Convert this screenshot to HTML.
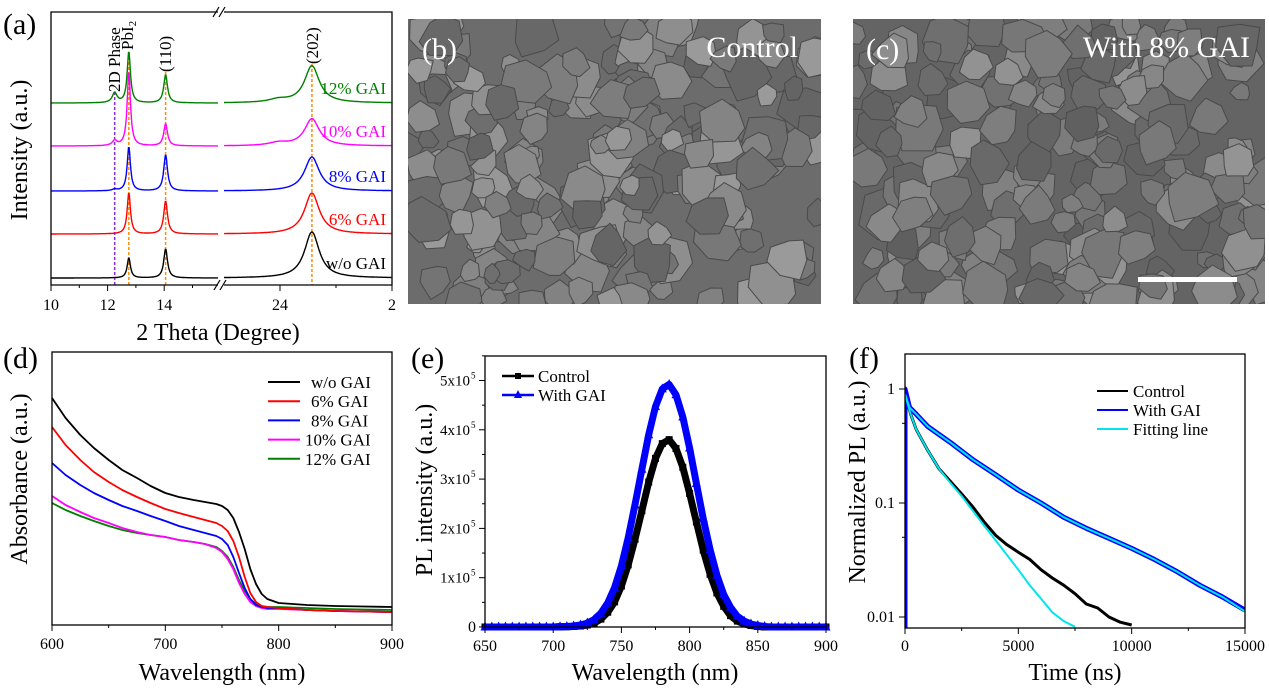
<!DOCTYPE html>
<html><head><meta charset="utf-8"><style>
html,body{margin:0;padding:0;background:#fff}
svg{display:block;font-family:"Liberation Serif",serif}
</style></head><body>
<svg id="fig" width="1269" height="688" viewBox="0 0 1269 688" xmlns="http://www.w3.org/2000/svg">
<defs>
<clipPath id="clipB"><rect x="408" y="19" width="413" height="285"/></clipPath>
<clipPath id="clipC"><rect x="853" y="19" width="412" height="285"/></clipPath>
<clipPath id="clipF"><rect x="905" y="354" width="340" height="274"/></clipPath>
<clipPath id="clipAL"><rect x="51" y="12" width="167" height="273"/></clipPath>
<clipPath id="clipAR"><rect x="224" y="12" width="168" height="273"/></clipPath>
</defs>
<g id="sem"></g>
<g id="pa"></g>
<g id="pd"></g>
<g id="pe"></g>
<g id="pf"></g>
</svg>
<script>
// ---------- Panel (a) XRD data ----------
const xrdSeries = ["w/o GAI","6% GAI","8% GAI","10% GAI","12% GAI"];
const xrdColors = ["#000000","#ff0000","#0000ff","#ff00ff","#008000"];
const xrdOffsets = [0,44,87,132,175];
const xrdPeakPos = [12.25,12.75,14.05,23.97,24.57];
const xrdH_wo = [0,20,29,0,46];
const xrdH_6 = [0,41,33,0,41];
const xrdH_8 = [1.5,44,36,0,34];
const xrdH_10 = [5,74,22,3,27];
const xrdH_12 = [10,51,28,3,37];
const xrdPeakW = [0.1,0.07,0.08,0.2,0.16];
// ---------- Panel (d) absorbance ----------
const absWl = [600,612,625,637,650,662,675,687,700,712,725,735,745,750,755,760,765,770,775,780,785,790,800,825,850,875,900];
const absWo = [2.27,2.07,1.90,1.77,1.65,1.55,1.47,1.39,1.32,1.28,1.25,1.23,1.21,1.19,1.15,1.07,0.93,0.76,0.56,0.41,0.31,0.26,0.22,0.20,0.19,0.185,0.18];
const abs6 = [1.98,1.80,1.65,1.53,1.43,1.35,1.28,1.22,1.16,1.12,1.08,1.05,1.02,0.99,0.94,0.84,0.68,0.48,0.32,0.23,0.19,0.18,0.17,0.15,0.14,0.135,0.13];
const abs8 = [1.62,1.50,1.40,1.32,1.25,1.19,1.14,1.09,1.04,0.99,0.95,0.92,0.89,0.86,0.80,0.68,0.52,0.37,0.26,0.20,0.18,0.17,0.17,0.15,0.14,0.135,0.13];
const abs10 = [1.29,1.20,1.13,1.07,1.02,0.97,0.93,0.90,0.88,0.85,0.83,0.81,0.77,0.73,0.66,0.56,0.42,0.31,0.23,0.19,0.17,0.16,0.16,0.15,0.14,0.135,0.13];
const abs12 = [1.22,1.15,1.09,1.04,0.99,0.95,0.92,0.90,0.88,0.85,0.83,0.81,0.78,0.74,0.68,0.58,0.45,0.34,0.26,0.21,0.19,0.18,0.18,0.17,0.16,0.155,0.15];
const absNames = ["w/o GAI","6% GAI","8% GAI","10% GAI","12% GAI"];
// ---------- Panel (e) PL ----------
const plWl = [650,655,660,665,670,675,680,685,690,695,700,705,710,715,720,725,730,735,740,745,750,755,760,765,770,775,780,785,790,795,800,805,810,815,820,825,830,835,840,845,850,855,860,865,870,875,880,885,890,895,900];
const plControl = [0,0,0,0,0,0,0,0,0,0,0,0.005,0.005,0.01,0.02,0.04,0.08,0.16,0.30,0.51,0.83,1.26,1.78,2.36,2.94,3.42,3.72,3.80,3.62,3.24,2.71,2.13,1.56,1.07,0.69,0.42,0.23,0.12,0.06,0.03,0.01,0,0,0,0,0,0,0,0,0,0];
const plGAI = [0,0,0,0,0,0,0,0,0,0,0,0.005,0.01,0.02,0.04,0.08,0.15,0.28,0.49,0.80,1.24,1.81,2.48,3.20,3.90,4.47,4.83,4.92,4.71,4.26,3.63,2.91,2.20,1.57,1.05,0.66,0.40,0.22,0.12,0.06,0.03,0.01,0,0,0,0,0,0,0,0,0];
const plTicks = [0,1,2,3,4,5];
// ---------- Panel (f) TRPL ----------
const tCtrl = [0,250,500,1000,1500,2000,2500,3000,3500,4000,4500,5000,5500,6000,6500,7000,7500,8000,8500,9000,9500,10000];
const vCtrl = [0.92,0.6,0.44,0.29,0.2,0.155,0.12,0.092,0.068,0.052,0.043,0.037,0.032,0.026,0.022,0.019,0.016,0.013,0.012,0.01,0.009,0.0085];
const tFitC = [0,250,500,1000,1500,2000,2500,3000,3500,4000,4500,5000,5500,6000,6500,7000,7500];
const vFitC = [0.9,0.6,0.44,0.29,0.2,0.15,0.115,0.085,0.063,0.047,0.035,0.026,0.019,0.0145,0.011,0.0092,0.0082];
const tGAI = [0,0,200,500,1000,1500,2000,2500,3000,4000,5000,6000,7000,8000,9000,10000,11000,12000,13000,14000,15000];
const vGAI = [0.008,1.0,0.69,0.6,0.47,0.4,0.34,0.285,0.24,0.177,0.13,0.1,0.075,0.06,0.049,0.04,0.032,0.025,0.019,0.015,0.0115];
const tFitG = [0,200,500,1000,1500,2000,2500,3000,4000,5000,6000,7000,8000,9000,10000,11000,12000,13000,14000,15000];
const vFitG = [0.9,0.69,0.6,0.47,0.4,0.34,0.285,0.24,0.177,0.13,0.1,0.075,0.06,0.049,0.04,0.032,0.025,0.019,0.015,0.0112];

const NS="http://www.w3.org/2000/svg";
function mk(parent,tag,attrs,text){const e=document.createElementNS(NS,tag);for(const k in attrs)e.setAttribute(k,attrs[k]);if(text!==undefined)e.textContent=text;parent.appendChild(e);return e;}
function txt(p,x,y,s,size,anchor,fill,rot){const a={x:x,y:y,"font-size":size,"text-anchor":anchor||"middle",fill:fill||"#000"};if(rot)a.transform="rotate(-90 "+x+" "+y+")";return mk(p,"text",a,s);}

// ---------- SEM textures ----------
(function(){
 const g=document.getElementById("sem");
 let seed=11;function rnd(){seed=(seed*16807)%2147483647;return seed/2147483647;}
 [[408,19,413,285,"clipB","sem-image-control"],[853,19,412,285,"clipC","sem-image-gai"]].forEach(function(r,i){
  const sg=mk(g,"g",{"clip-path":"url(#"+r[4]+")"});
  
  
  mk(sg,"rect",{x:r[0],y:r[1],width:r[2],height:r[3],fill:i?"#646464":"#6c6c6c"});
  for(let k=0;k<200;k++){
   const cx=r[0]+rnd()*r[2],cy=r[1]+rnd()*r[3],rr=10+rnd()*16;
   let pts=[];const n=7;for(let j=0;j<n;j++){const a=j/n*6.283+rnd()*0.4,rad=rr*(0.75+rnd()*0.4);pts.push((cx+Math.cos(a)*rad).toFixed(1)+","+(cy+Math.sin(a)*rad).toFixed(1));}
   const v=Math.round(100+rnd()*55-(i?6:0));
   mk(sg,"polygon",{points:pts.join(" "),fill:"rgb("+v+","+v+","+v+")",stroke:"#4a4a4a","stroke-width":1,"stroke-linejoin":"round"});
  }
 });
 const lb=txt(g,422,59,"(b)",30,"start","#fff");
 const lc=txt(g,798,57,"Control",30,"end","#fff");
 const lb2=txt(g,866,59,"(c)",30,"start","#fff");
 const lc2=txt(g,1250,57,"With 8% GAI",30,"end","#fff");
 const sb=mk(g,"rect",{x:1138,y:277,width:99,height:5,fill:"#fff"});
 
})();

// ---------- Panel (a) ----------
(function(){
 const g=document.getElementById("pa");
 const xL=v=>51+(v-10)*28.3, xR=v=>280+(v-24)*56, y=v=>278-v;
 const heights=[xrdH_wo,xrdH_6,xrdH_8,xrdH_10,xrdH_12];
 function I(t,s){let v=0;for(let k=0;k<xrdPeakPos.length;k++){const d=(t-xrdPeakPos[k])/xrdPeakW[k];v+=heights[s][k]/(1+d*d);}return v;}
 [[12.25,"#8a2be2",0],[12.75,"#ff8c00",0],[14.05,"#ff8c00",0],[24.57,"#ff8c00",1]].forEach(function(d){
  const X=d[2]?xR(d[0]):xL(d[0]);
  const l=mk(g,"line",{x1:X,x2:X,y1:d[0]==12.25?92:d[0]==12.75?52:d[0]==14.05?72:64,y2:285,stroke:d[1],"stroke-width":1.5,"stroke-dasharray":"3,2"});
  
 });
 for(let s=0;s<5;s++){
  let pl=[],pr=[];
  for(let t=10;t<=15.9;t+=0.02)pl.push(xL(t).toFixed(1)+","+y(xrdOffsets[s]+I(t,s)).toFixed(1));
  for(let t=23;t<=26;t+=0.01)pr.push(xR(t).toFixed(1)+","+y(xrdOffsets[s]+I(t,s)).toFixed(1));
  const a=mk(g,"polyline",{points:pl.join(" "),fill:"none",stroke:xrdColors[s],"stroke-width":1.4,"clip-path":"url(#clipAL)"});
  
  const b=mk(g,"polyline",{points:pr.join(" "),fill:"none",stroke:xrdColors[s],"stroke-width":1.4,"clip-path":"url(#clipAR)"});
  
  const lt=txt(g,386,y(xrdOffsets[s])-9,xrdSeries[s],17,"end",xrdColors[s]);
  
 }
 mk(g,"path",{d:"M218 12H51V285H218M224 285H392V12H224",fill:"none",stroke:"#000","stroke-width":1.3});
 mk(g,"path",{d:"M213 17L219 7M219 17L225 7M214 290L220 280M220 290L226 280",stroke:"#000","stroke-width":1.2,fill:"none"});
 [[10,0],[12,0],[14,0],[24,1],[26,1]].forEach(function(t){const X=t[1]?xR(t[0]):xL(t[0]);mk(g,"line",{x1:X,x2:X,y1:285,y2:291,stroke:"#000"});
  const tl=txt(g,X,310,t[0]==26?"2":String(t[0]),16);});
 [11,13,15].forEach(v=>mk(g,"line",{x1:xL(v),x2:xL(v),y1:285,y2:288,stroke:"#000"}));
 [25].forEach(v=>mk(g,"line",{x1:xR(v),x2:xR(v),y1:285,y2:288,stroke:"#000"}));
 [["2D Phase",120,92],["PbI",133,50],["(110)",171,72],["(202)",318,64]].forEach(function(p){
  const t=txt(g,p[1],p[2],p[0],17,"start","#000",true);
  if(p[0]=="PbI"){mk(t,"tspan",{"font-size":11,dy:3},"2");}
 });
 const xt=txt(g,218,340,"2 Theta (Degree)",24);
 const yt=txt(g,27,150,"Intensity (a.u.)",24,"middle","#000",true);
 const pa=txt(g,3,34,"(a)",30,"start");
})();

// ---------- Panel (d) ----------
(function(){
 const g=document.getElementById("pd");
 const x=v=>52+(v-600)/300*340, y=v=>625-v*100;
 const series=[absWo,abs6,abs8,abs10,abs12];
 for(let s=4;s>=0;s--){
  const p=mk(g,"polyline",{points:absWl.map((w,i)=>x(w).toFixed(1)+","+y(series[s][i]).toFixed(1)).join(" "),fill:"none",stroke:xrdColors[s],"stroke-width":1.8,"stroke-linejoin":"round"});
  
 }
 mk(g,"rect",{x:52,y:352,width:340,height:273,fill:"none",stroke:"#000","stroke-width":1.3});
 [600,700,800,900].forEach(function(v){mk(g,"line",{x1:x(v),x2:x(v),y1:625,y2:631,stroke:"#000"});
  const t=txt(g,x(v),649,String(v),16);});
 [650,750,850].forEach(v=>mk(g,"line",{x1:x(v),x2:x(v),y1:625,y2:628,stroke:"#000"}));
 absNames.forEach(function(n,i){const Y=382+i*19.2;
  const l=mk(g,"line",{x1:268,x2:300,y1:Y,y2:Y,stroke:xrdColors[i],"stroke-width":2});
  const t=txt(g,i>=3?305:311,Y+6,n,17,"start");});
 const xt=txt(g,222,680,"Wavelength (nm)",24);
 const yt=txt(g,27,479,"Absorbance (a.u.)",24,"middle","#000",true);
 const pl=txt(g,3,368,"(d)",30,"start");
})();

// ---------- Panel (e) ----------
(function(){
 const g=document.getElementById("pe");
 const x=v=>485+(v-650)/250*341, y=v=>627-v*49.3;
 [[plControl,"#000","sq"],[plGAI,"#0000ff","tri"]].forEach(function(s){
  const p=mk(g,"polyline",{points:plWl.map((w,i)=>x(w).toFixed(1)+","+y(s[0][i]).toFixed(1)).join(" "),fill:"none",stroke:s[1],"stroke-width":7,"stroke-linejoin":"round"});
  
  plWl.forEach(function(w,i){const X=x(w),Y=y(s[0][i]);let m;
   if(s[2]=="sq")m=mk(g,"rect",{x:X-3.5,y:Y-3.5,width:7,height:7,fill:s[1]});
   else m=mk(g,"polygon",{points:(X)+","+(Y-5.5)+" "+(X-4.5)+","+(Y+3.5)+" "+(X+4.5)+","+(Y+3.5),fill:s[1]});
   });
 });
 mk(g,"rect",{x:485,y:356,width:341,height:271,fill:"none",stroke:"#000","stroke-width":1.3});
 [650,700,750,800,850,900].forEach(function(v){mk(g,"line",{x1:x(v),x2:x(v),y1:627,y2:633,stroke:"#000"});
  const t=txt(g,x(v),651,String(v),16);});
 [675,725,775,825,875].forEach(v=>mk(g,"line",{x1:x(v),x2:x(v),y1:627,y2:630,stroke:"#000"}));
 plTicks.forEach(function(v){mk(g,"line",{x1:479,x2:485,y1:y(v),y2:y(v),stroke:"#000"});mk(g,"line",{x1:482,x2:485,y1:y(v+0.5),y2:y(v+0.5),stroke:"#000"});
  let t;if(v==0)t=txt(g,476,y(v)+5,"0",16,"end");else{t=txt(g,470,y(v)+5,v+"x10",15,"end");mk(g,"text",{x:471,y:y(v)-2,"font-size":9},"5");}
  });
 [["Control","#000","sq",376],["With GAI","#0000ff","tri",395]].forEach(function(l){
  const ln=mk(g,"line",{x1:502,x2:534,y1:l[3],y2:l[3],stroke:l[1],"stroke-width":2.5});
  if(l[2]=="sq")mk(g,"rect",{x:515,y:l[3]-3,width:6,height:6,fill:l[1]});else mk(g,"polygon",{points:"518,"+(l[3]-5)+" 514,"+(l[3]+3)+" 522,"+(l[3]+3),fill:l[1]});
  const t=txt(g,538,l[3]+6,l[0],17,"start");});
 const xt=txt(g,655,680,"Wavelength (nm)",24);
 const yt=txt(g,432,490,"PL intensity (a.u.)",24,"middle","#000",true);
 const pl=txt(g,411,368,"(e)",30,"start");
})();

// ---------- Panel (f) ----------
(function(){
 const g=document.getElementById("pf");
 const x=v=>905+v/15000*340, y=v=>389-Math.log10(v)*114;
 const cg=mk(g,"g",{"clip-path":"url(#clipF)"});
 [[tCtrl,vCtrl,"#000",3,"control-decay"],[tGAI,vGAI,"#0000ff",5,"gai-decay"],[tFitC,vFitC,"#00e5ee",2,"control-fit"],[tFitG,vFitG,"#00e5ee",2,"gai-fit"]].forEach(function(s){
  const p=mk(cg,"polyline",{points:s[0].map((t,i)=>x(t).toFixed(1)+","+y(s[1][i]).toFixed(1)).join(" "),fill:"none",stroke:s[2],"stroke-width":s[3],"stroke-linejoin":"round"});
  
 });
 mk(g,"rect",{x:905,y:354,width:340,height:274,fill:"none",stroke:"#000","stroke-width":1.3});
 [0,5000,10000,15000].forEach(function(v){mk(g,"line",{x1:x(v),x2:x(v),y1:628,y2:634,stroke:"#000"});
  const t=txt(g,x(v),651,String(v),16);});
 [2500,7500,12500].forEach(v=>mk(g,"line",{x1:x(v),x2:x(v),y1:628,y2:631,stroke:"#000"}));
 [1,0.1,0.01].forEach(function(v){mk(g,"line",{x1:899,x2:905,y1:y(v),y2:y(v),stroke:"#000"});
  const t=txt(g,895,y(v)+5,String(v),16,"end");});
 [0.5,0.05].forEach(v=>mk(g,"line",{x1:902,x2:905,y1:y(v),y2:y(v),stroke:"#000"}));
 [["Control","#000",391],["With GAI","#0000ff",410],["Fitting line","#00e5ee",429]].forEach(function(l){
  const ln=mk(g,"line",{x1:1097,x2:1128,y1:l[2],y2:l[2],stroke:l[1],"stroke-width":2});
  const t=txt(g,1133,l[2]+6,l[0],17,"start");});
 const xt=txt(g,1075,680,"Time (ns)",24);
 const yt=txt(g,865,482,"Normalized PL (a.u.)",24,"middle","#000",true);
 const pl=txt(g,849,368,"(f)",30,"start");
})();
</script>
</body></html>
